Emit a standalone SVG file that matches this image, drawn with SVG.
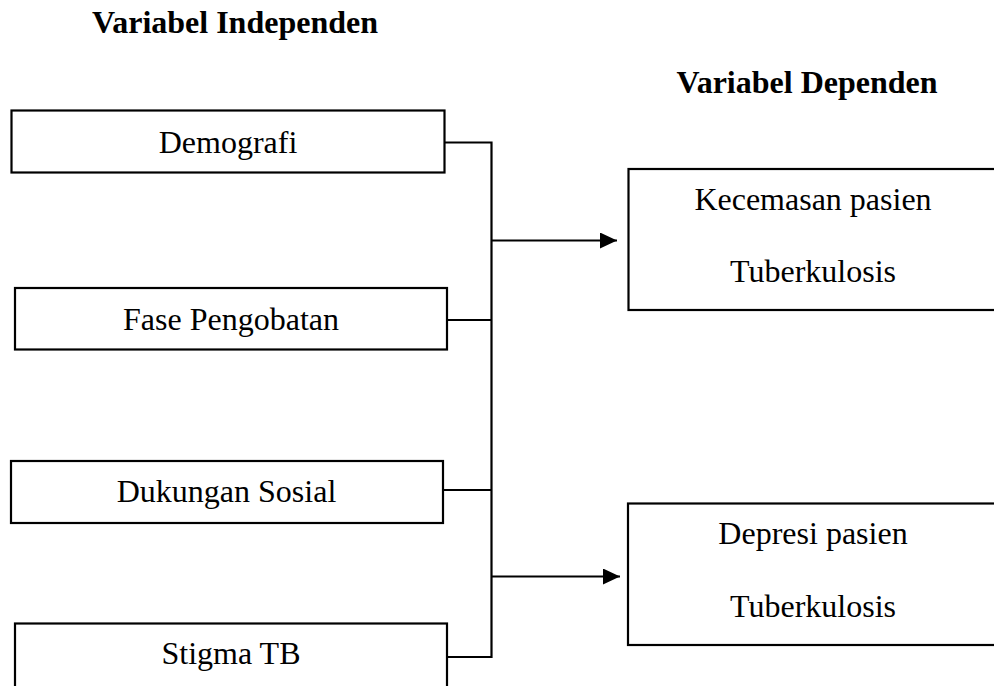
<svg xmlns="http://www.w3.org/2000/svg" width="994" height="686" viewBox="0 0 994 686">
<defs>
<style>
.box{fill:#fff;stroke:#000;stroke-width:2.2}
.t{font-family:"Liberation Serif","Times New Roman",serif;font-size:32px;fill:#000;text-anchor:middle}
.h{font-family:"Liberation Serif","Times New Roman",serif;font-size:32px;font-weight:bold;fill:#000;text-anchor:middle}
.ln{fill:none;stroke:#000;stroke-width:2.2}
</style>
<marker id="ah" markerWidth="18" markerHeight="16" refX="17" refY="8" orient="auto" markerUnits="userSpaceOnUse">
<path d="M0,0 L17,8 L0,16 Z" fill="#000"/>
</marker>
</defs>
<rect width="994" height="686" fill="#fff"/>
<text class="h" x="235" y="33">Variabel Independen</text>
<text class="h" x="807" y="93">Variabel Dependen</text>
<g id="n-demografi">
<rect class="box" x="11.5" y="110.5" width="433" height="62"/>
<text class="t" x="228" y="152.5">Demografi</text>
</g>
<g id="n-fase">
<rect class="box" x="15" y="288" width="432" height="61.5"/>
<text class="t" x="231" y="330">Fase Pengobatan</text>
</g>
<g id="n-dukungan">
<rect class="box" x="11" y="461" width="432" height="62"/>
<text class="t" x="226.5" y="501.5">Dukungan Sosial</text>
</g>
<g id="n-stigma">
<rect class="box" x="15" y="623.5" width="432" height="80"/>
<text class="t" x="231" y="664">Stigma TB</text>
</g>
<g id="n-kecemasan">
<rect class="box" x="628.5" y="169" width="380" height="141"/>
<text class="t" x="813" y="210">Kecemasan pasien</text>
<text class="t" x="813" y="281.5">Tuberkulosis</text>
</g>
<g id="n-depresi">
<rect class="box" x="628" y="503.5" width="380" height="141.5"/>
<text class="t" x="813" y="544">Depresi pasien</text>
<text class="t" x="813" y="616.5">Tuberkulosis</text>
</g>
<g id="connectors">
<polyline class="ln" points="444.5,142.5 491.5,142.5 491.5,657 447,657"/>
<line class="ln" x1="447" y1="320" x2="491.5" y2="320"/>
<line class="ln" x1="443" y1="490" x2="491.5" y2="490"/>
<line class="ln" x1="491.5" y1="240.5" x2="617" y2="240.5" marker-end="url(#ah)"/>
<line class="ln" x1="491.5" y1="576.5" x2="620" y2="576.5" marker-end="url(#ah)"/>
</g>
</svg>
